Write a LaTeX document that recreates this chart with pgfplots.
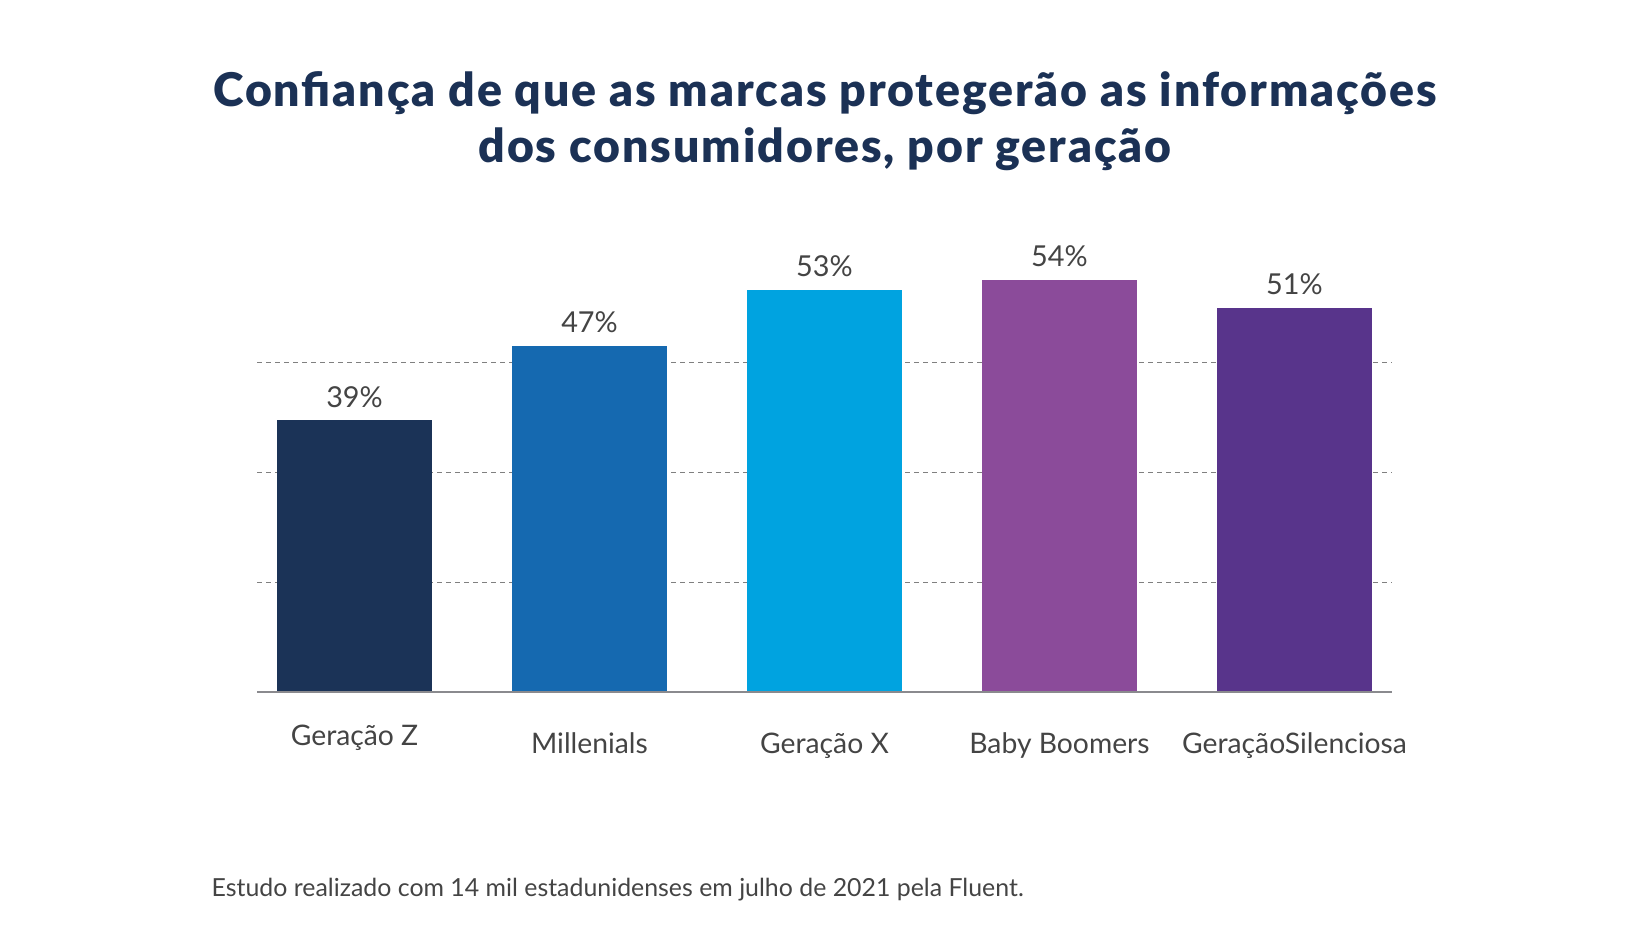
\documentclass[border=0pt]{standalone}
\usepackage{fontspec}
\setmainfont{Lato}
\newfontfamily\titlefont{Lato Black}[LetterSpace=4.2]
\usepackage{pgfplots}
\pgfplotsset{compat=1.18}
\definecolor{cgz}{HTML}{1B3357}
\definecolor{cmil}{HTML}{1569B0}
\definecolor{cgx}{HTML}{00A3E0}
\definecolor{cbb}{HTML}{8B4B9A}
\definecolor{csil}{HTML}{58348B}
\definecolor{titleblue}{HTML}{1B3155}
\definecolor{textgray}{HTML}{444444}
\definecolor{gridgray}{HTML}{808080}
\definecolor{basegray}{HTML}{8A8A8E}
\begin{document}
\begin{tikzpicture}
\useasboundingbox (0,0) rectangle (165.1mm,94.1mm);
\begin{axis}[
  at={(25.7mm,24.92mm)}, anchor=south west,
  scale only axis, width=113.5mm, height=46.18mm,
  xmin=-0.415, xmax=4.415, ymin=10, ymax=59.36,
  axis line style={draw=none},
  ybar, bar width=15.5mm, bar shift=0pt,
  ymajorgrids, ytick={21.70,33.41,45.22}, yticklabels={},
  major grid style={gridgray, line width=0.1mm, dash pattern=on 0.45mm off 0.45mm},
  major tick length=0pt,
  xtick={0,1,2,3,4},
  xticklabels={\raisebox{0.73mm}{Geração Z}, Millenials, Geração X, Baby Boomers, GeraçãoSilenciosa},
  xticklabel style={font=\fontsize{8.05}{9}\selectfont, text=textgray, anchor=base, inner sep=0pt, yshift=-6.15mm},
  /pgf/number format/assume math mode=true,
  nodes near coords={\pgfmathprintnumber{\pgfplotspointmeta}\%},
  every node near coord/.append style={anchor=base, inner sep=0pt, yshift=1.34mm, font=\fontsize{8.2}{9}\selectfont, text=textgray},
  clip=false,
]
\addplot[fill=cgz, draw=none] coordinates {(0,39)};
\addplot[fill=cmil, draw=none] coordinates {(1,47)};
\addplot[fill=cgx, draw=none] coordinates {(2,53)};
\addplot[fill=cbb, draw=none] coordinates {(3,54)};
\addplot[fill=csil, draw=none] coordinates {(4,51)};
\draw[basegray, line width=0.15mm] (rel axis cs:0,0) -- (rel axis cs:1,0);
\end{axis}
\node[anchor=base, inner sep=0pt, font=\titlefont\fontsize{13.2}{15}\selectfont, text=titleblue] at (82.5mm,83.4mm) {Confiança de que as marcas protegerão as informações};
\node[anchor=base, inner sep=0pt, font=\titlefont\fontsize{13.2}{15}\selectfont, text=titleblue] at (82.5mm,77.85mm) {dos consumidores, por geração};
\node[anchor=base west, inner sep=0pt, font=\fontsize{7.08}{8}\selectfont, text=textgray] at (21.1mm,4.43mm) {Estudo realizado com 14 mil estadunidenses em julho de 2021 pela Fluent.};
\end{tikzpicture}
\end{document}
